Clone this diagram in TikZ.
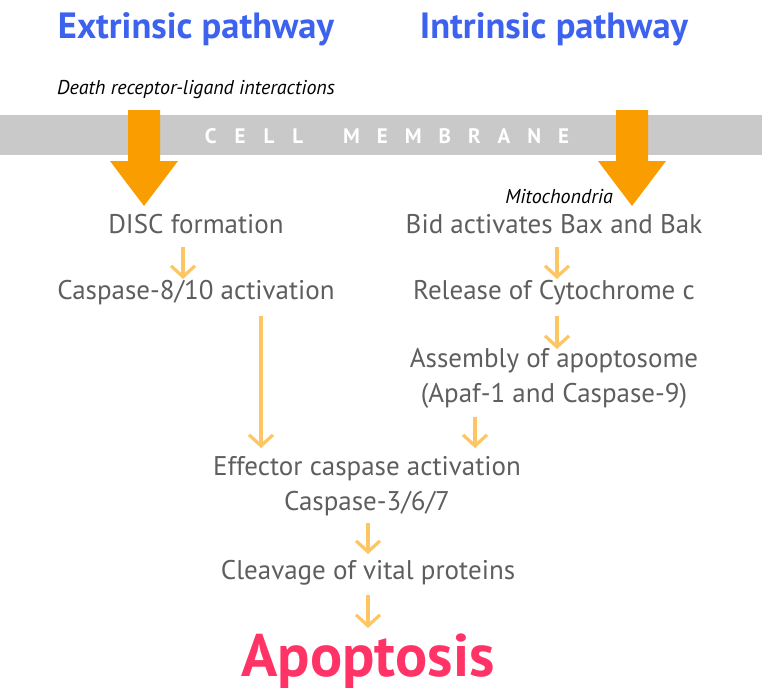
\documentclass[tikz,border=0pt]{standalone}
\usepackage{fontspec}
\setmainfont{PT Sans}
\usetikzlibrary{arrows.meta}
\definecolor{hblue}{HTML}{3D63EE}
\definecolor{txtgray}{HTML}{5E5E5E}
\definecolor{memgray}{HTML}{C9C9C9}
\definecolor{bigorange}{HTML}{F99D00}
\definecolor{lightorange}{HTML}{FDC663}
\definecolor{apopink}{HTML}{FF3366}
\tikzset{
  heading/.style={font=\fontsize{36.5}{40}\selectfont\bfseries, text=hblue, inner sep=0pt},
  stage/.style={font=\fontsize{27}{35}\selectfont, text=txtgray, inner sep=0pt, align=center},
  note/.style={font=\fontsize{20}{22}\selectfont\itshape, text=black, inner sep=0pt},
  flow/.style={draw=lightorange, line width=3.2pt, -{Straight Barb[length=11pt,width=24pt,line width=3.2pt]}},
  bigarrow/.style={fill=bigorange, draw=none},
}
\begin{document}
\begin{tikzpicture}[x=1pt,y=-1pt]
\useasboundingbox (0,0) rectangle (762,694);
% headings
\node[heading] (ext) at (196,29) {Extrinsic pathway};
\node[heading] (int) at (554,29) {Intrinsic pathway};
\node[note] (drl) at (196,90) {Death receptor-ligand interactions};
% membrane
\fill[memgray] (0,115) rectangle (762,155);
\node[font=\fontsize{21}{22}\selectfont\bfseries, text=white, inner sep=0pt] (mem) at (387,136)
  {C\hspace{18pt}E\hspace{18pt}L\hspace{18pt}L\hspace{40pt}M\hspace{17pt}E\hspace{17pt}M\hspace{17pt}B\hspace{17pt}R\hspace{17pt}A\hspace{17pt}N\hspace{17pt}E};
% big arrows
\fill[bigarrow] (128,110) -- (160,110) -- (160,161) -- (178,161) -- (144,206) -- (110,161) -- (128,161) -- cycle;
\fill[bigarrow] (616,110) -- (648,110) -- (648,161) -- (666,161) -- (632,206) -- (598,161) -- (616,161) -- cycle;
\node[note] (mito) at (559,197) {Mitochondria};
% stages
\node[stage] (disc) at (196,224) {DISC formation};
\node[stage] (bid) at (554,224) {Bid activates Bax and Bak};
\node[stage] (casp8) at (196,293) {Caspase-8/10 activation};
\node[stage] (cyto) at (554,293) {Release of Cytochrome c};
\node[stage] (apop) at (554,378) {Assembly of apoptosome\\(Apaf-1 and Caspase-9)};
\node[stage] (eff) at (367,486) {Effector caspase activation\\Caspase-3/6/7};
\node[stage] (cleav) at (368,573) {Cleavage of vital proteins};
\node[font=\fontsize{60}{64}\selectfont\bfseries, text=apopink, inner sep=0pt] (apo) at (368,661) {Apoptosis};
% coordinates for flows
\coordinate (a1s) at (183,247); \coordinate (a1e) at (183,279);
\coordinate (a2s) at (557,247); \coordinate (a2e) at (557,279);
\coordinate (a3s) at (557,316); \coordinate (a3e) at (557,349);
\coordinate (a4s) at (261,316); \coordinate (a4e) at (261,448);
\coordinate (a5s) at (475,417); \coordinate (a5e) at (475,448);
\coordinate (a6s) at (368,523); \coordinate (a6e) at (368,554);
\coordinate (a7s) at (368,595); \coordinate (a7e) at (368,628);
\draw[flow] (a1s) -- (a1e);
\draw[flow] (a2s) -- (a2e);
\draw[flow] (a3s) -- (a3e);
\draw[flow] (a4s) -- (a4e);
\draw[flow] (a5s) -- (a5e);
\draw[flow] (a6s) -- (a6e);
\draw[flow] (a7s) -- (a7e);
\end{tikzpicture}
\end{document}
